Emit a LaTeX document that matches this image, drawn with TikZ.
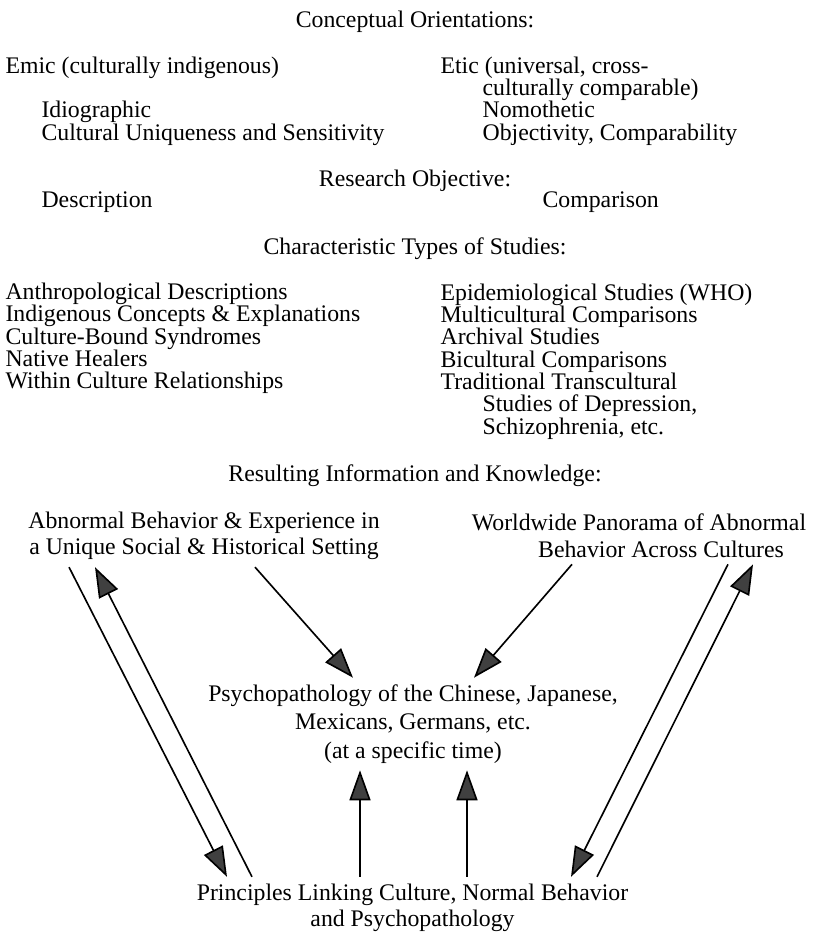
\documentclass[tikz,border=0pt]{standalone}
\usepackage{fontspec}
\setmainfont{Liberation Serif}
\usetikzlibrary{arrows.meta}
\newcommand{\indnt}{\hspace*{12.6mm}}

\begin{document}
\begin{tikzpicture}[x=0.3mm,y=-0.3mm]
	\tikzstyle{txt} = [inner sep=2pt,font=\fontsize{20.3}{19.1}\selectfont]
	\tikzstyle{lst} = [txt,anchor=west,align=left]
	\tikzstyle{box} = [inner sep=2pt,outer sep=4pt,align=center,font=\fontsize{20.3}{22.7}\selectfont]
	\tikzstyle{edge} = [-{Triangle[length=9mm,width=6.3mm,fill=black!75]},line width=1.4pt]
	\useasboundingbox (0,-2.5) rectangle (813,930.5);
	% orientations
	\node[txt] (orient) at (415,19) {Conceptual Orientations:};
	\node[lst] (emic) at (3,65) {Emic (culturally indigenous)};
	\node[lst] (idio) at (39,121) {Idiographic\\Cultural Uniqueness and Sensitivity};
	\node[lst] (etic) at (438,98.5) {Etic (universal, cross-\\\indnt culturally comparable)\\\indnt Nomothetic\\\indnt Objectivity, Comparability};
	% objective
	\node[txt] (objective) at (415,178) {Research Objective:};
	\node[lst] (descr) at (39,200) {Description};
	\node[lst] (compar) at (540,200) {Comparison};
	% studies
	\node[txt] (types) at (415,246) {Characteristic Types of Studies:};
	\node[lst] (emicstud) at (3,336) {Anthropological Descriptions\\Indigenous Concepts \& Explanations\\Culture-Bound Syndromes\\Native Healers\\Within Culture Relationships};
	\node[lst] (eticstud) at (438,359) {Epidemiological Studies (WHO)\\Multicultural Comparisons\\Archival Studies\\Bicultural Comparisons\\Traditional Transcultural\\\indnt Studies of Depression,\\\indnt Schizophrenia, etc.};
	% knowledge
	\node[txt] (result) at (415,473) {Resulting Information and Knowledge:};
	\node[box] (unique) at (204,533.5) {Abnormal Behavior \& Experience in\\a Unique Social \& Historical Setting};
	\node[box] (panorama) at (639,533) {Worldwide Panorama of Abnormal\\\hspace*{13.2mm}Behavior Across Cultures};
	\node[box,font=\fontsize{20.3}{24.2}\selectfont] (psycho) at (413,721.5) {Psychopathology of the Chinese, Japanese,\\Mexicans, Germans, etc.\\(at a specific time)};
	\node[box,outer sep=4pt] (principles) at (412.5,905.5) {Principles Linking Culture, Normal Behavior\\and Psychopathology};

	\draw[edge] (unique.south -| 69,0) -- (principles.north -| 227,0);
	\draw[edge] (principles.north -| 252,0) -- (unique.south -| 95,0);
	\draw[edge] (unique.south -| 255,0) -- (psycho.north -| 353,0);
	\draw[edge] (panorama.south -| 572,0) -- (psycho.north -| 474,0);
	\draw[edge] (principles.north -| 360,0) -- (psycho.south -| 360,0);
	\draw[edge] (principles.north -| 467,0) -- (psycho.south -| 467,0);
	\draw[edge] (panorama.south -| 728,0) -- (principles.north -| 571,0);
	\draw[edge] (principles.north -| 597,0) -- (panorama.south -| 753,0);
\end{tikzpicture}
\end{document}
